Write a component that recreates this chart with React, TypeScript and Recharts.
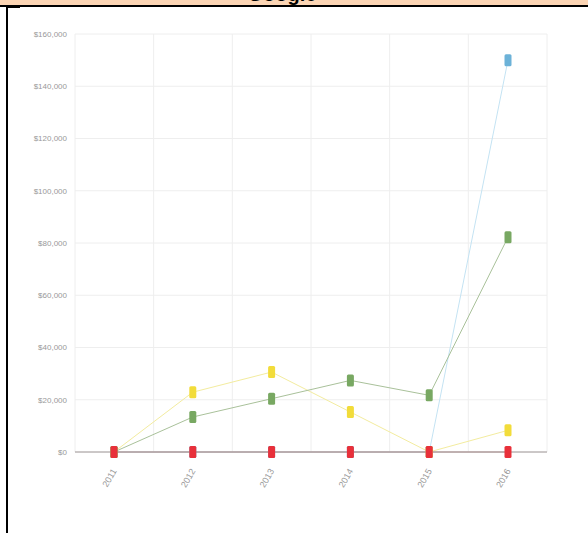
import React from 'react';
import { LineChart, Line, XAxis, YAxis, CartesianGrid } from 'recharts';

const years = ['2011', '2012', '2013', '2014', '2015', '2016'];
const blueValues = [0, 0, 0, 0, 0, 150000];
const yellowValues = [0, 22900, 30600, 15300, 0, 8300];
const greenValues = [0, 13400, 20400, 27400, 21700, 82200];
const redValues = [0, 0, 0, 0, 0, 0];
const yTicks = [0, 20000, 40000, 60000, 80000, 100000, 120000, 140000, 160000];
const titleText = 'Google';

const data = years.map((y, i) => ({
  year: y,
  blue: blueValues[i],
  yellow: yellowValues[i],
  green: greenValues[i],
  red: redValues[i],
}));

const makeDot = (fill: string) => (props: any) => {
  const { cx, cy, index } = props;
  if (cx == null || cy == null) return <g key={index} />;
  return <rect key={index} x={cx - 3.5} y={cy - 6} width={7} height={12} rx={1.5} fill={fill} />;
};

const XTick = (props: any) => {
  const { x, y, payload } = props;
  const ax = x + 3;
  const ay = y + 11;
  return (
    <text
      x={ax}
      y={ay}
      textAnchor="end"
      fontSize={9}
      fill="#999"
      fontFamily="Liberation Sans, Arial, sans-serif"
      transform={`rotate(-60, ${ax}, ${ay})`}
    >
      {payload.value}
    </text>
  );
};

const fmt = (v: number) => '$' + v.toLocaleString('en-US');

export default function App() {
  return (
    <div style={{ position: 'absolute', left: 0, top: 0, width: 588, height: 533, background: '#fff', overflow: 'hidden' }}>
      <LineChart width={588} height={533} data={data} margin={{ top: 34, right: 41, bottom: 11, left: 10 }}>
        <CartesianGrid
          stroke="#eeeeee"
          verticalCoordinatesGenerator={(p: any) => {
            const off = p.offset;
            return years.map((_, i) => off.left + (i * off.width) / years.length).concat([off.left + off.width]);
          }}
        />
        <XAxis
          dataKey="year"
          padding={{ left: 39, right: 39 }}
          axisLine={{ stroke: '#a09898' }}
          tickLine={false}
          tick={<XTick />}
          interval={0}
          height={70}
        />
        <YAxis
          width={65}
          domain={[0, 160000]}
          ticks={yTicks}
          tickFormatter={fmt}
          axisLine={false}
          tickLine={false}
          tick={{ fontSize: 8, fill: '#999', fontFamily: 'Liberation Sans, Arial, sans-serif' }}
          interval={0}
        />
        <Line dataKey="blue" stroke="#c4e3f3" strokeWidth={1} dot={makeDot('#6cb2d8')} isAnimationActive={false} />
        <Line dataKey="yellow" stroke="#f3ec9f" strokeWidth={1} dot={makeDot('#f2dc3a')} isAnimationActive={false} />
        <Line dataKey="green" stroke="#a9c19a" strokeWidth={1} dot={makeDot('#78a862')} isAnimationActive={false} />
        <Line dataKey="red" stroke="#c89a9a" strokeWidth={1} dot={makeDot('#e8303a')} isAnimationActive={false} />
      </LineChart>
      <div style={{ position: 'absolute', left: 0, top: 0, width: 588, height: 5, background: '#fcd5b4', overflow: 'hidden', zIndex: 10 }}>
        <div
          style={{
            position: 'absolute',
            left: 232,
            top: -16,
            width: 100,
            textAlign: 'center',
            fontSize: 20,
            lineHeight: '20px',
            fontWeight: 'bold',
            fontFamily: 'Liberation Sans, Arial, sans-serif',
            color: '#000',
            whiteSpace: 'nowrap',
          }}
        >
          {titleText}
        </div>
      </div>
      <div style={{ position: 'absolute', left: 0, top: 5, width: 588, height: 2, background: '#000', zIndex: 10 }} />
      <div style={{ position: 'absolute', left: 6, top: 5, width: 2, height: 528, background: '#000', zIndex: 10 }} />
      <div style={{ position: 'absolute', left: 6, top: 6, width: 14, height: 2, background: '#000', zIndex: 10 }} />
    </div>
  );
}
